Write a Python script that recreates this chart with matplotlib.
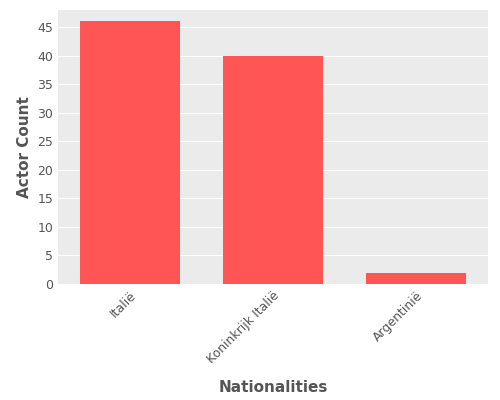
import matplotlib
matplotlib.use("Agg")
import matplotlib.pyplot as plt

nationalities = ["Italië", "Koninkrijk Italië", "Argentinië"]
actor_counts = [46, 40, 2]

fig, ax = plt.subplots(figsize=(5, 4), dpi=100)
fig.subplots_adjust(left=0.116, right=0.976, top=0.975, bottom=0.29)
ax.set_facecolor("#EBEBEB")
ax.grid(axis="y", color="white", linewidth=0.8)
ax.set_axisbelow(True)
for s in ax.spines.values():
    s.set_visible(False)

ax.bar(range(len(nationalities)), actor_counts, width=0.7, color="#FF5555")
ax.set_xticks(range(len(nationalities)))
ax.set_xticklabels(nationalities, rotation=45, ha="right", rotation_mode="anchor",
                   color="#555555", fontsize=9)
ax.set_xlim(-0.5, 2.5)
ax.set_ylim(0, 48)
ax.set_yticks(range(0, 50, 5))
ax.tick_params(axis="y", colors="#555555", labelsize=9, length=0)
ax.tick_params(axis="x", length=0)
ax.set_xlabel("Nationalities", fontsize=11, fontweight="bold", color="#555555", labelpad=10)
ax.set_ylabel("Actor Count", fontsize=11, fontweight="bold", color="#555555")

fig.savefig("out.png")
